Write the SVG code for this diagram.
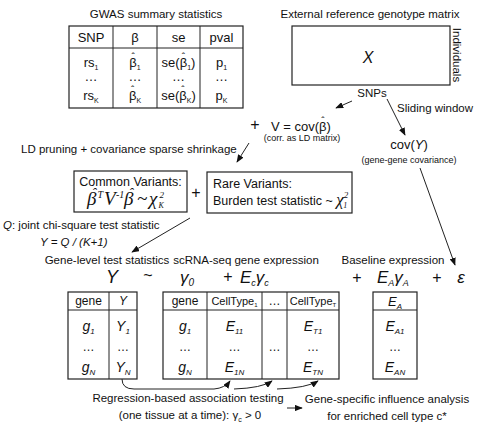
<svg xmlns="http://www.w3.org/2000/svg" width="480" height="426" viewBox="0 0 480 426">
<defs>
<style>
svg{font-family:"Liberation Sans",Arial,sans-serif;font-size:11.5px}
text{fill:#111}
.c{text-anchor:middle}
.e{text-anchor:end}
.i{font-style:italic}
.s{font-size:13px}
.h{font-size:12px}
.sm{font-size:9px}
.hat{text-anchor:middle}
.m{font-family:"Liberation Serif","Times New Roman",serif;font-style:italic}
.eq{font-style:italic}
.bx{fill:none;stroke:#222;stroke-width:1.2}
.ln{fill:none;stroke:#222;stroke-width:1}
.ar{marker-end:url(#ah)}
</style>
<marker id="ah" viewBox="0 0 10 8" refX="9" refY="4" markerWidth="8" markerHeight="6.4" markerUnits="userSpaceOnUse" orient="auto"><path d="M0,0L10,4L0,8z" fill="#111"/></marker>
</defs>
<rect width="480" height="426" fill="#fff"/>

<g id="gwas">
<text x="156" y="18" class="c">GWAS summary statistics</text>
<rect class="bx" x="69" y="26" width="174" height="82"/>
<path class="ln" d="M69,48H243M113,26V108M157,26V108M200,26V108"/>
<text class="s c" x="91" y="42">SNP</text>
<text class="s c" x="135" y="42">β</text>
<text class="s c" x="178.5" y="42">se</text>
<text class="s c" x="221.5" y="42">pval</text>
<text class="s c" x="91" y="67">rs<tspan font-size="7" dy="3">1</tspan></text>
<text class="s" x="129.3" y="67">β<tspan font-size="7" dy="3">1</tspan></text>
<text class="hat" font-size="10" x="133.1" y="61">ˆ</text>
<text class="s" x="161.6" y="67">se(β<tspan font-size="7" dy="3">1</tspan><tspan dy="-3">)</tspan></text>
<text class="hat" font-size="10" x="183.4" y="61">ˆ</text>
<text class="s c" x="221.5" y="67">p<tspan font-size="7" dy="3">1</tspan></text>
<text class="s c" x="91" y="81">…</text>
<text class="s c" x="135" y="81">…</text>
<text class="s c" x="178.5" y="81">…</text>
<text class="s c" x="221.5" y="81">…</text>
<text class="s c" x="91" y="100">rs<tspan font-size="7" dy="3">K</tspan></text>
<text class="s" x="128.9" y="100">β<tspan font-size="7" dy="3">K</tspan></text>
<text class="hat" font-size="10" x="132.7" y="94">ˆ</text>
<text class="s" x="161.2" y="100">se(β<tspan font-size="7" dy="3">K</tspan><tspan dy="-3">)</tspan></text>
<text class="hat" font-size="10" x="183" y="94">ˆ</text>
<text class="s c" x="221.5" y="100">p<tspan font-size="7" dy="3">K</tspan></text>
</g>

<g id="refmatrix">
<text x="370" y="18" class="c">External reference genotype matrix</text>
<rect class="bx" x="292" y="26" width="158" height="59"/>
<text x="368" y="63" class="c i" font-size="16">X</text>
<text transform="translate(453,55) rotate(90)" class="c">Individuals</text>
<text x="372" y="97" class="c">SNPs</text>
</g>

<g id="ldmatrix">
<text x="255" y="130" class="c" font-size="16">+</text>
<text x="319" y="131" class="e" font-size="13">V = cov(</text>
<text x="319" y="131" font-size="13">β)</text>
<text class="hat" font-size="10" x="322.8" y="125">ˆ</text>
<text x="302" y="141" class="c sm">(corr. as LD matrix)</text>
</g>

<g id="slidingwindow">
<text x="397" y="112">Sliding window</text>
</g>

<g id="covY">
<text x="409" y="149" class="c" font-size="13">cov(<tspan class="i">Y</tspan>)</text>
<text x="409" y="163" class="c" font-size="9">(gene-gene covariance)</text>
</g>

<g id="ldpruning">
<text x="21" y="153">LD pruning + covariance sparse shrinkage</text>
</g>

<g id="common">
<rect class="bx" x="74" y="171" width="113" height="41"/>
<text x="130.5" y="186" class="c" font-size="12.5">Common Variants:</text>
<text class="m" y="205" font-size="19"><tspan x="87">β</tspan><tspan x="97.5" dy="-7" font-size="10">T</tspan><tspan x="104" dy="7">V</tspan><tspan x="116" dy="-7" font-size="10">-1</tspan><tspan x="124" dy="7">β</tspan><tspan x="137">~</tspan><tspan x="149">χ</tspan><tspan x="159.5" dy="-7" font-size="9">2</tspan><tspan x="158.5" dy="10" font-size="8">K</tspan></text>
<text class="m hat" x="94" y="198" font-size="14">ˆ</text>
<text class="m hat" x="131" y="198" font-size="14">ˆ</text>
</g>

<text x="196" y="198" class="c" font-size="16">+</text>

<g id="rare">
<rect class="bx" x="207" y="172" width="145" height="41"/>
<text x="213" y="188" font-size="12.5">Rare Variants:</text>
<text x="213" y="205" font-size="12.5">Burden test statistic ~ <tspan class="m" font-size="17">χ</tspan><tspan class="m" font-size="9" dy="-7">2</tspan><tspan class="m" font-size="8" dx="-5" dy="10">1</tspan></text>
</g>

<g id="qstat">
<text x="3" y="229"><tspan class="i">Q</tspan>: joint chi-square test statistic</text>
<text x="40" y="246" class="i">Y = Q / (K+1)</text>
</g>

<g id="headings">
<text x="107" y="264" class="c">Gene-level test statistics</text>
<text x="246" y="264" class="c">scRNA-seq gene expression</text>
<text x="393" y="264" class="c">Baseline expression</text>
</g>

<g id="equation">
<text x="112" y="283" class="c eq" font-size="18">Y</text>
<text x="148" y="281" class="c" font-size="16">~</text>
<text x="187" y="283" class="c eq" font-size="17">γ<tspan font-size="10" dy="3">0</tspan></text>
<text x="228" y="282" class="c" font-size="16">+</text>
<text x="240" y="283" class="eq" font-size="17">E<tspan font-size="9" dy="3">c</tspan><tspan dy="-3">γ</tspan><tspan font-size="9" dy="3">c</tspan></text>
<text x="357" y="283" class="c" font-size="16">+</text>
<text x="377" y="283" class="eq" font-size="17">E<tspan font-size="9" dy="3">A</tspan><tspan dy="-3">γ</tspan><tspan font-size="9" dy="3">A</tspan></text>
<text x="437" y="283" class="c" font-size="16">+</text>
<text x="461" y="283" class="c eq" font-size="17">ε</text>
</g>

<g id="tableY">
<rect class="bx" x="68" y="292" width="69" height="87"/>
<path class="ln" d="M68,310H137M109,292V379"/>
<text x="88.5" y="305" class="c h">gene</text>
<text x="123" y="305" class="c h i">Y</text>
<text x="88.5" y="331" class="c i" font-size="14">g<tspan font-size="8" dy="3">1</tspan></text>
<text x="123" y="331" class="c i" font-size="14">Y<tspan font-size="8" dy="3">1</tspan></text>
<text x="88.5" y="351" class="c h">…</text>
<text x="123" y="351" class="c h">…</text>
<text x="88.5" y="372" class="c i" font-size="14">g<tspan font-size="8" dy="3">N</tspan></text>
<text x="123" y="372" class="c i" font-size="14">Y<tspan font-size="8" dy="3">N</tspan></text>
</g>

<g id="tableE">
<rect class="bx" x="163" y="292" width="176" height="87"/>
<path class="ln" d="M163,310H339M207,292V379M262,292V379M287,292V379"/>
<text x="185" y="305" class="c h">gene</text>
<text x="234.5" y="305" class="c" font-size="11">CellType<tspan font-size="6" dy="2">1</tspan></text>
<text x="274.5" y="305" class="c h">…</text>
<text x="313" y="305" class="c" font-size="11">CellType<tspan font-size="6" dy="2">T</tspan></text>
<text x="185" y="331" class="c i" font-size="14">g<tspan font-size="8" dy="3">1</tspan></text>
<text x="234.5" y="331" class="c i" font-size="14">E<tspan font-size="8" dy="3">11</tspan></text>
<text x="313" y="331" class="c i" font-size="14">E<tspan font-size="8" dy="3">T1</tspan></text>
<text x="185" y="351" class="c h">…</text>
<text x="234.5" y="351" class="c h">…</text>
<text x="274.5" y="351" class="c h">…</text>
<text x="313" y="351" class="c h">…</text>
<text x="185" y="372" class="c i" font-size="14">g<tspan font-size="8" dy="3">N</tspan></text>
<text x="234.5" y="372" class="c i" font-size="14">E<tspan font-size="8" dy="3">1N</tspan></text>
<text x="313" y="372" class="c i" font-size="14">E<tspan font-size="8" dy="3">TN</tspan></text>
</g>

<g id="tableA">
<rect class="bx" x="373" y="292" width="44" height="87"/>
<path class="ln" d="M373,310H417"/>
<text x="395" y="306" class="c i" font-size="13">E<tspan font-size="8" dy="3">A</tspan></text>
<text x="395" y="331" class="c i" font-size="14">E<tspan font-size="8" dy="3">A1</tspan></text>
<text x="395" y="351" class="c h">…</text>
<text x="395" y="372" class="c i" font-size="14">E<tspan font-size="8" dy="3">AN</tspan></text>
</g>

<g id="regression">
<text x="188" y="402" class="c">Regression-based association testing</text>
<text x="190" y="419" class="c">(one tissue at a time): γ<tspan font-size="7" dy="3">c</tspan><tspan dy="-3"> &gt; 0</tspan></text>
</g>

<g id="influence">
<text x="387" y="403" class="c">Gene-specific influence analysis</text>
<text x="387" y="420" class="c">for enriched cell type c*</text>
</g>

<g id="connectors">
<path class="ln ar" d="M352,101L336,108"/>
<path class="ln ar" d="M387,99L405,135"/>
<path class="ln ar" d="M249,143L237,162"/>
<path class="ln ar" d="M190,218L132,252"/>
<path class="ln ar" d="M420,168L455,265"/>
<path class="ln ar" d="M122,379Q122,389 134,389L214,389Q225,388 230,381"/>
<path class="ln ar" d="M234,389Q262,388 272,381"/>
<path class="ln ar" d="M277,389Q307,388 318,381"/>
<path class="ln ar" d="M287,408L302,408"/>
</g>
</svg>
